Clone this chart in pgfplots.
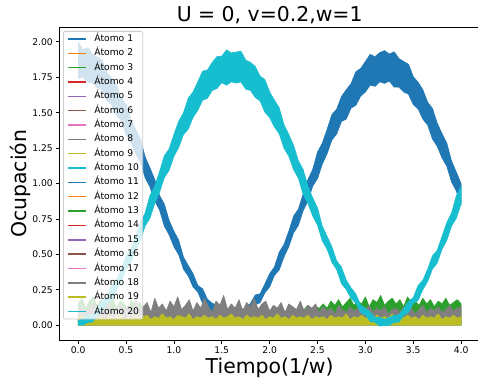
\documentclass[border=0pt]{standalone}
\usepackage{fontspec}
\setmainfont{DejaVu Sans}
\usepackage{pgfplots}
\pgfplotsset{compat=1.18}
\usepackage{pgfplotstable}
\definecolor{c0}{HTML}{1F77B4}
\definecolor{c1}{HTML}{FF7F0E}
\definecolor{c2}{HTML}{2CA02C}
\definecolor{c3}{HTML}{D62728}
\definecolor{c4}{HTML}{9467BD}
\definecolor{c5}{HTML}{8C564B}
\definecolor{c6}{HTML}{E377C2}
\definecolor{c7}{HTML}{7F7F7F}
\definecolor{c8}{HTML}{BCBD22}
\definecolor{c9}{HTML}{17BECF}
\definecolor{legedge}{HTML}{CCCCCC}

% t in units of 1e7; band of Atomo 1: upper edge left->right, lower edge right->left
\pgfplotstableread{
t y
0.00 2.000
0.05 1.944
0.10 1.960
0.15 1.912
0.20 1.891
0.25 1.872
0.30 1.784
0.35 1.745
0.40 1.692
0.45 1.604
0.50 1.560
0.55 1.456
0.60 1.382
0.65 1.315
0.70 1.187
0.75 1.110
0.80 1.028
0.85 0.916
0.90 0.854
0.95 0.740
1.00 0.663
1.05 0.600
1.10 0.480
1.15 0.421
1.20 0.363
1.25 0.280
1.30 0.256
1.35 0.183
1.40 0.154
1.45 0.143
1.50 0.080
1.55 0.081
1.60 0.087
1.65 0.071
1.70 0.115
1.75 0.113
1.80 0.154
1.85 0.213
1.90 0.221
1.95 0.290
2.00 0.363
2.05 0.411
2.10 0.515
2.15 0.570
2.20 0.663
2.25 0.770
2.30 0.819
2.35 0.926
2.40 1.028
2.45 1.100
2.50 1.222
2.55 1.285
2.60 1.382
2.65 1.486
2.70 1.525
2.75 1.614
2.80 1.662
2.85 1.705
2.90 1.789
2.95 1.812
3.00 1.861
3.05 1.912
3.10 1.895
3.15 1.924
3.20 1.938
3.25 1.914
3.30 1.930
3.35 1.882
3.40 1.861
3.45 1.842
3.50 1.754
3.55 1.715
3.60 1.662
3.65 1.574
3.70 1.530
3.75 1.426
3.80 1.352
3.85 1.285
3.90 1.157
3.95 1.080
4.00 0.998
4.00 0.847
3.95 0.946
3.90 1.010
3.85 1.122
3.80 1.181
3.75 1.262
3.70 1.315
3.65 1.413
3.60 1.455
3.55 1.527
3.50 1.557
3.45 1.631
3.40 1.646
3.35 1.680
3.30 1.681
3.25 1.723
3.20 1.707
3.15 1.718
3.10 1.686
3.05 1.695
3.00 1.646
2.95 1.616
2.90 1.552
2.85 1.532
2.80 1.455
2.75 1.438
2.70 1.350
2.65 1.307
2.60 1.211
2.55 1.137
2.50 1.035
2.45 0.981
2.40 0.877
2.35 0.808
2.30 0.704
2.25 0.653
2.20 0.554
2.15 0.482
2.10 0.390
2.05 0.352
2.00 0.270
1.95 0.228
1.90 0.158
1.85 0.144
1.80 0.089
1.75 0.065
1.70 0.024
1.65 0.042
1.60 0.018
1.55 0.037
1.50 0.029
1.45 0.080
1.40 0.089
1.35 0.129
1.30 0.153
1.25 0.233
1.20 0.270
1.15 0.347
1.10 0.395
1.05 0.497
1.00 0.554
0.95 0.638
0.90 0.699
0.85 0.813
0.80 0.877
0.75 0.976
0.70 1.040
0.65 1.152
0.60 1.211
0.55 1.292
0.50 1.345
0.45 1.443
0.40 1.485
0.35 1.557
0.30 1.587
0.25 1.661
0.20 1.676
0.15 1.710
0.10 1.711
0.05 1.753
0.00 1.740
}\bandA

% band of Atomo 20
\pgfplotstableread{
t y
0.00 0.030
0.05 0.050
0.10 0.070
0.15 0.072
0.20 0.118
0.25 0.167
0.30 0.195
0.35 0.279
0.40 0.317
0.45 0.395
0.50 0.489
0.55 0.528
0.60 0.627
0.65 0.724
0.70 0.792
0.75 0.914
0.80 0.981
0.85 1.083
0.90 1.195
0.95 1.244
1.00 1.346
1.05 1.439
1.10 1.499
1.15 1.603
1.20 1.646
1.25 1.719
1.30 1.793
1.35 1.801
1.40 1.855
1.45 1.896
1.50 1.899
1.55 1.943
1.60 1.922
1.65 1.928
1.70 1.934
1.75 1.871
1.80 1.855
1.85 1.826
1.90 1.758
1.95 1.734
2.00 1.646
2.05 1.588
2.10 1.534
2.15 1.414
2.20 1.346
2.25 1.269
2.30 1.160
2.35 1.098
2.40 0.981
2.45 0.899
2.50 0.827
2.55 0.699
2.60 0.627
2.65 0.553
2.70 0.454
2.75 0.410
2.80 0.317
2.85 0.264
2.90 0.220
2.95 0.142
3.00 0.118
3.05 0.092
3.10 0.054
3.15 0.055
3.20 0.041
3.25 0.055
3.30 0.070
3.35 0.072
3.40 0.118
3.45 0.167
3.50 0.195
3.55 0.279
3.60 0.317
3.65 0.395
3.70 0.489
3.75 0.528
3.80 0.627
3.85 0.724
3.90 0.792
3.95 0.914
4.00 0.981
4.00 0.859
3.95 0.755
3.90 0.701
3.85 0.599
3.80 0.535
3.75 0.439
3.70 0.396
3.65 0.308
3.60 0.251
3.55 0.174
3.50 0.154
3.45 0.090
3.40 0.070
3.35 0.021
3.30 0.020
3.25 -0.002
3.20 -0.001
3.15 -0.007
3.10 0.020
3.05 0.026
3.00 0.070
2.95 0.090
2.90 0.154
2.85 0.189
2.80 0.251
2.75 0.293
2.70 0.391
2.65 0.444
2.60 0.535
2.55 0.594
2.50 0.706
2.45 0.770
2.40 0.859
2.35 0.923
2.30 1.037
2.25 1.098
2.20 1.192
2.15 1.249
2.10 1.351
2.05 1.399
2.00 1.466
1.95 1.503
1.90 1.583
1.85 1.607
1.80 1.657
1.75 1.666
1.70 1.717
1.65 1.709
1.60 1.718
1.55 1.694
1.50 1.712
1.45 1.671
1.40 1.657
1.35 1.602
1.30 1.588
1.25 1.518
1.20 1.466
1.15 1.384
1.10 1.346
1.05 1.254
1.00 1.192
0.95 1.093
0.90 1.042
0.85 0.938
0.80 0.859
0.75 0.755
0.70 0.701
0.65 0.599
0.60 0.535
0.55 0.439
0.50 0.396
0.45 0.308
0.40 0.251
0.35 0.174
0.30 0.154
0.25 0.090
0.20 0.070
0.15 0.021
0.10 0.020
0.05 0.000
0.00 0.000
}\bandB

\pgfplotstableread{
t g k o
0.00 0.15 0.10 0.05
0.04 0.19 0.14 0.07
0.08 0.12 0.08 0.04
0.12 0.17 0.12 0.06
0.16 0.20 0.16 0.08
0.20 0.13 0.09 0.05
0.24 0.18 0.13 0.06
0.28 0.14 0.11 0.04
0.32 0.16 0.17 0.07
0.36 0.19 0.08 0.05
0.40 0.12 0.12 0.06
0.44 0.17 0.15 0.08
0.48 0.15 0.10 0.04
0.52 0.11 0.14 0.06
0.56 0.18 0.09 0.05
0.60 0.13 0.18 0.07
0.64 0.16 0.11 0.05
0.68 0.12 0.13 0.06
0.72 0.10 0.16 0.07
0.76 0.08 0.09 0.04
0.80 0.12 0.19 0.06
0.84 0.09 0.12 0.05
0.88 0.11 0.15 0.08
0.92 0.07 0.10 0.05
0.96 0.10 0.17 0.06
1.00 0.12 0.13 0.04
1.04 0.08 0.20 0.07
1.08 0.11 0.11 0.06
1.12 0.09 0.14 0.05
1.16 0.10 0.18 0.08
1.20 0.07 0.10 0.04
1.24 0.12 0.16 0.06
1.28 0.09 0.12 0.05
1.32 0.11 0.19 0.07
1.36 0.08 0.13 0.05
1.40 0.10 0.09 0.06
1.44 0.12 0.17 0.04
1.48 0.09 0.14 0.07
1.52 0.11 0.21 0.05
1.56 0.08 0.11 0.06
1.60 0.10 0.15 0.08
1.64 0.07 0.12 0.05
1.68 0.12 0.18 0.06
1.72 0.09 0.10 0.04
1.76 0.11 0.16 0.07
1.80 0.10 0.13 0.05
1.84 0.08 0.19 0.06
1.88 0.12 0.11 0.05
1.92 0.09 0.15 0.07
1.96 0.11 0.17 0.04
2.00 0.10 0.10 0.06
2.04 0.08 0.14 0.05
2.08 0.12 0.12 0.08
2.12 0.10 0.16 0.05
2.16 0.09 0.09 0.06
2.20 0.11 0.15 0.04
2.24 0.13 0.13 0.07
2.28 0.10 0.11 0.05
2.32 0.12 0.17 0.06
2.36 0.11 0.10 0.05
2.40 0.14 0.14 0.07
2.44 0.10 0.12 0.04
2.48 0.13 0.15 0.06
2.52 0.12 0.09 0.05
2.56 0.15 0.13 0.06
2.60 0.12 0.10 0.04
2.64 0.17 0.12 0.07
2.68 0.14 0.08 0.05
2.72 0.18 0.14 0.06
2.76 0.13 0.11 0.05
2.80 0.16 0.09 0.08
2.84 0.19 0.13 0.04
2.88 0.14 0.10 0.06
2.92 0.17 0.12 0.05
2.96 0.15 0.08 0.07
3.00 0.20 0.11 0.05
3.04 0.13 0.14 0.06
3.08 0.18 0.09 0.04
3.12 0.16 0.12 0.07
3.16 0.21 0.10 0.05
3.20 0.14 0.13 0.06
3.24 0.17 0.08 0.05
3.28 0.19 0.11 0.08
3.32 0.15 0.12 0.04
3.36 0.18 0.09 0.06
3.40 0.13 0.13 0.05
3.44 0.20 0.10 0.07
3.48 0.16 0.12 0.05
3.52 0.17 0.08 0.06
3.56 0.14 0.11 0.04
3.60 0.19 0.14 0.07
3.64 0.15 0.09 0.05
3.68 0.18 0.12 0.06
3.72 0.13 0.10 0.05
3.76 0.17 0.13 0.08
3.80 0.15 0.09 0.04
3.84 0.19 0.11 0.06
3.88 0.14 0.14 0.05
3.92 0.16 0.10 0.07
3.96 0.18 0.12 0.05
4.00 0.15 0.13 0.06
}\noisedata

\begin{document}
\begin{tikzpicture}
\begin{axis}[
  at={(59bp,43bp)}, anchor=south west,
  scale only axis, width=421.3bp, height=312.3bp,
  xmin=-0.2, xmax=4.2, ymin=-0.105, ymax=2.1,
  xtick={0,0.5,1,1.5,2,2.5,3,3.5,4},
  xticklabels={0.0,0.5,1.0,1.5,2.0,2.5,3.0,3.5,4.0},
  ytick={0,0.25,0.5,0.75,1,1.25,1.5,1.75,2},
  yticklabels={0.00,0.25,0.50,0.75,1.00,1.25,1.50,1.75,2.00},
  tick align=outside, xtick pos=left, ytick pos=left,
  major tick length=3.5bp,
  every tick/.style={black, line width=0.8bp},
  axis line style={black, line width=0.8bp},
  ticklabel style={font=\fontsize{9.2bp}{11bp}\selectfont},
  xticklabel style={anchor=north, inner sep=0pt, yshift=-3bp},
  yticklabel style={anchor=east, inner sep=0pt, xshift=-2.5bp},
  title={U = 0, v=0.2,w=1},
  xlabel={Tiempo(1/w)},
  ylabel={Ocupación},
  every axis title/.style={at={(rel axis cs:0.5,1)}, anchor=base, yshift=6bp, font=\fontsize{20.4bp}{24bp}\selectfont},
  every axis x label/.style={at={(rel axis cs:0.5,0)}, anchor=base, yshift=-34bp, font=\fontsize{20.4bp}{24bp}\selectfont},
  every axis y label/.style={at={(rel axis cs:0,0.5)}, xshift=-32.5bp, rotate=90, anchor=base, font=\fontsize{20.4bp}{24bp}\selectfont},
  legend cell align=left,
  legend image code/.code={\draw[#1, line width=1.5bp] (0bp,0bp) -- (18.4bp,0bp);},
  legend style={at={(rel axis cs:0,1)}, anchor=north west, xshift=4bp, yshift=-3.3bp,
    fill=white, fill opacity=0.8, draw opacity=1, text opacity=1,
    draw=legedge, line width=0.8bp, rounded corners=2bp,
    font=\fontsize{9.2bp}{11bp}\selectfont,
    inner xsep=3.7bp, inner ysep=3.0bp, column sep=7.4bp, row sep=5.35bp,
    nodes={inner sep=0pt, text height=7bp, text depth=2bp}},
]
% Atomo 1 (blue band)
\addplot[fill=c0, draw=c0, line width=0.6bp, line join=round, forget plot] table[x=t, y=y]{\bandA};
% Atomo 13 (green)
\addplot[draw=c2, fill=c2, line width=0.6bp, line join=round, forget plot] table[x=t, y=g]{\noisedata} \closedcycle;
% Atomo 18 (gray)
\addplot[draw=c7, fill=c7, line width=0.6bp, line join=round, forget plot] table[x=t, y=k]{\noisedata} \closedcycle;
% Atomo 19 (olive)
\addplot[draw=c8, fill=c8, line width=0.6bp, line join=round, forget plot] table[x=t, y=o]{\noisedata} \closedcycle;
% Atomo 20 (cyan band)
\addplot[fill=c9, draw=c9, line width=0.6bp, line join=round, forget plot] table[x=t, y=y]{\bandB};

\addlegendimage{c0}\addlegendentry{Átomo 1}
\addlegendimage{c1}\addlegendentry{Átomo 2}
\addlegendimage{c2}\addlegendentry{Átomo 3}
\addlegendimage{c3}\addlegendentry{Átomo 4}
\addlegendimage{c4}\addlegendentry{Átomo 5}
\addlegendimage{c5}\addlegendentry{Átomo 6}
\addlegendimage{c6}\addlegendentry{Átomo 7}
\addlegendimage{c7}\addlegendentry{Átomo 8}
\addlegendimage{c8}\addlegendentry{Átomo 9}
\addlegendimage{c9}\addlegendentry{Átomo 10}
\addlegendimage{c0}\addlegendentry{Átomo 11}
\addlegendimage{c1}\addlegendentry{Átomo 12}
\addlegendimage{c2}\addlegendentry{Átomo 13}
\addlegendimage{c3}\addlegendentry{Átomo 14}
\addlegendimage{c4}\addlegendentry{Átomo 15}
\addlegendimage{c5}\addlegendentry{Átomo 16}
\addlegendimage{c6}\addlegendentry{Átomo 17}
\addlegendimage{c7}\addlegendentry{Átomo 18}
\addlegendimage{c8}\addlegendentry{Átomo 19}
\addlegendimage{c9}\addlegendentry{Átomo 20}
\node[anchor=base east, font=\fontsize{9.2bp}{11bp}\selectfont] at (rel axis cs:1,0) [xshift=-2.3bp, yshift=-29.5bp] {1e7};
\end{axis}
\pgfresetboundingbox
\path[use as bounding box] (0,0) rectangle (478bp,383bp);
\end{tikzpicture}
\end{document}
